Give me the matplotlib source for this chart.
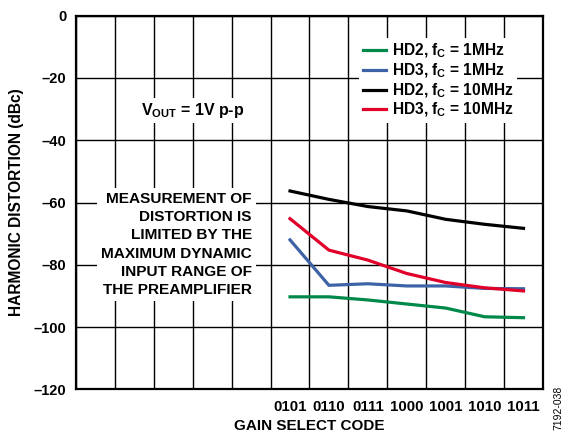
import numpy as np
import matplotlib
matplotlib.use('Agg')
import matplotlib.pyplot as plt

plt.rcParams['font.family'] = ['Liberation Sans', 'DejaVu Sans']
plt.rcParams['font.weight'] = 'bold'
plt.rcParams['mathtext.fontset'] = 'custom'
plt.rcParams['mathtext.rm'] = 'Liberation Sans:bold'
plt.rcParams['mathtext.it'] = 'Liberation Sans:bold'
plt.rcParams['mathtext.bf'] = 'Liberation Sans:bold'

# gain select codes on the x axis
codes = ['0101', '0110', '0111', '1000', '1001', '1010', '1011']

# harmonic distortion, dBc
hd2_1mhz = [-90.3, -90.3, -91.3, -92.6, -93.9, -96.7, -97.0]
hd3_1mhz = [-72.0, -86.6, -86.1, -86.8, -86.8, -87.6, -87.7]
hd2_10mhz = [-56.3, -59.0, -61.3, -62.7, -65.4, -67.0, -68.3]
hd3_10mhz = [-65.2, -75.3, -78.5, -82.8, -85.7, -87.4, -88.4]

labels = [r'HD2, f$_{\mathregular{C}}$ = 1MHz', r'HD3, f$_{\mathregular{C}}$ = 1MHz',
          r'HD2, f$_{\mathregular{C}}$ = 10MHz', r'HD3, f$_{\mathregular{C}}$ = 10MHz']
colors = ['#00894B', '#3D63A6', '#000000', '#E0002A']

yticks = [0, -20, -40, -60, -80, -100, -120]
ytick_labels = ['0', '–20', '–40', '–60', '–80', '–100', '–120']

fig = plt.figure(figsize=(5.65, 4.32), dpi=100)
ax = fig.add_axes([0.1345, 0.0988, 0.8265, 0.8649])

# 12 grid columns, data sits in the middle of the last seven
x = np.arange(len(codes)) + 5.5

for ys, c, lab in zip([hd2_1mhz, hd3_1mhz, hd2_10mhz, hd3_10mhz], colors, labels):
    ax.plot(x, ys, color=c, lw=2.3, label=lab, zorder=3)

ax.set_xlim(0, 12)
ax.set_ylim(-120, 0)
ax.set_xticks(np.arange(0, 13))
ax.set_xticklabels([])
ax.set_xticks(x, minor=True)
ax.set_xticklabels(codes, minor=True, fontsize=10.8, fontweight='bold')
ax.set_yticks(yticks)
ax.set_yticklabels(ytick_labels, fontsize=10.5, fontweight='bold')
ax.tick_params(which='both', length=0, pad=7)
ax.tick_params(axis='x', which='both', pad=8)
ax.grid(True, which='major', color='black', lw=1.0, zorder=1)
for s in ax.spines.values():
    s.set_linewidth(1.6)

ax.set_ylabel('HARMONIC DISTORTION (dBc)', fontsize=11.2, fontweight='bold', labelpad=7)
ax.set_xlabel('GAIN SELECT CODE', fontsize=11, fontweight='bold', labelpad=3)

leg = ax.legend(loc='upper right', bbox_to_anchor=(0.945, 0.94), borderaxespad=0,
                fontsize=11.2, handlelength=1.5, handletextpad=0.35, labelspacing=0.08,
                borderpad=0.25, frameon=True, fancybox=False, framealpha=1)
leg.get_frame().set_edgecolor('none')
leg.get_frame().set_facecolor('white')
for t in leg.get_texts():
    t.set_fontweight('bold')

ax.text(3.0, -30.5, r'V$_{\mathregular{OUT}}$ = 1V p-p', fontsize=11.5, fontweight='bold',
        ha='center', va='center', zorder=4,
        bbox=dict(facecolor='white', edgecolor='none', pad=2))

ax.text(4.52, -73.5, 'MEASUREMENT OF\nDISTORTION IS\nLIMITED BY THE\nMAXIMUM DYNAMIC\nINPUT RANGE OF\nTHE PREAMPLIFIER',
        fontsize=11.1, fontweight='bold', ha='right', va='center', multialignment='right',
        linespacing=1.38, zorder=4,
        bbox=dict(facecolor='white', edgecolor='none', pad=3))

fig.text(0.988, 0.055, '7192-038', rotation=90, fontsize=7.5, fontweight='normal',
         ha='center', va='center')

fig.savefig('out.png', dpi=100)
